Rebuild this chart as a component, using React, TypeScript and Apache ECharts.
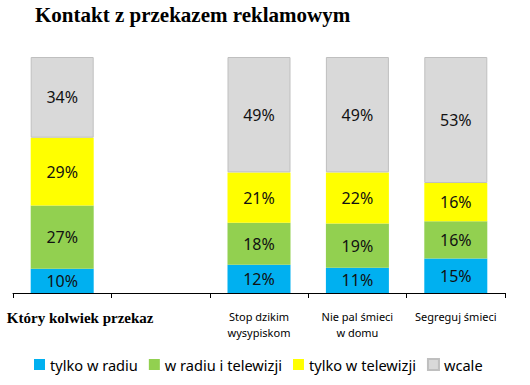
import React, { useEffect, useRef } from "react";
import * as echarts from "echarts";

const titleText = "Kontakt z przekazem reklamowym";
const categories = ["Który kolwiek przekaz", "", "Stop dzikim\nwysypiskom", "Nie pal śmieci\nw domu", "Segreguj śmieci"];
const seriesNames = ["tylko w radiu", "w radiu i telewizji", "tylko w telewizji", "wcale"];
const radioOnly = [10.3, null, 12.0, 10.7, 14.6];
const radioAndTv = [26.8, null, 17.8, 18.8, 15.8];
const tvOnly = [28.7, null, 21.3, 21.6, 16.2];
const notAtAll = [34.2, null, 48.9, 48.9, 53.4];
const colors = ["#00b0f0", "#92d050", "#ffff00", "#d9d9d9"];

const FONT = "Noto Sans";

export default function App() {
  const ref = useRef<HTMLDivElement>(null);
  useEffect(() => {
    document.body.style.margin = "0";
    if (!ref.current) return;
    const chart = echarts.init(ref.current, null, { renderer: "svg" });
    const dataSets = [radioOnly, radioAndTv, tvOnly, notAtAll];
    chart.setOption({
      animation: false,
      title: {
        text: titleText,
        left: 30,
        top: -1,
        textStyle: { fontFamily: "Liberation Serif", fontWeight: "bold", fontSize: 21, color: "#000" },
      },
      legend: {
        bottom: 8,
        left: 29,
        itemWidth: 11,
        itemHeight: 11,
        itemGap: 11,
        icon: "rect",
        textStyle: { fontFamily: FONT, fontSize: 14.6, color: "#000" },
        data: seriesNames,
      },
      grid: { left: 13, right: 25, top: 57, bottom: 92, containLabel: false, outerBoundsMode: "none" },
      xAxis: {
        type: "category",
        data: categories,
        axisLine: { lineStyle: { color: "#000", width: 1 } },
        axisTick: { show: true, length: 5, lineStyle: { color: "#000" } },
        axisLabel: {
          interval: 0,
          margin: 15,
          fontFamily: FONT,
          fontSize: 11,
          lineHeight: 16,
          color: "#000",
          hideOverlap: false,
          formatter: (v: string, i: number) => (i === 0 ? `{b|${v}}` : v),
          rich: {
            b: {
              fontFamily: "Liberation Serif",
              fontWeight: "bold",
              fontSize: 15,
              color: "#000",
              padding: [4, 0, 0, 36],
            },
          },
        },
      },
      yAxis: { type: "value", min: 0, max: 100, show: false },
      series: dataSets.map((d, k) => ({
        name: seriesNames[k],
        type: "bar",
        stack: "total",
        barWidth: 63,
        data: d,
        itemStyle: {
          color: colors[k],
          borderColor: k === 3 ? "#bfbfbf" : undefined,
          borderWidth: k === 3 ? 1 : 0,
        },
        label: {
          show: true,
          position: "inside",
          fontFamily: FONT,
          fontSize: 16,
          color: "#111",
          formatter: (p: any) => Math.round(p.value) + "%",
        },
      })),
    });
    return () => chart.dispose();
  }, []);
  return <div ref={ref} style={{ width: 530, height: 385 }} />;
}
